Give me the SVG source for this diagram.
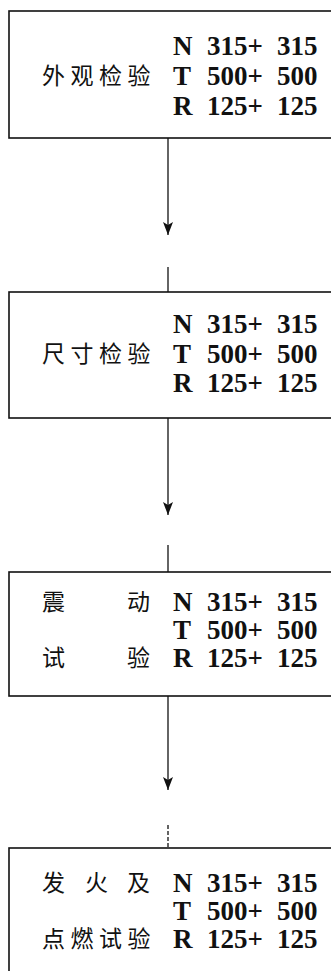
<svg xmlns="http://www.w3.org/2000/svg" width="331" height="971" viewBox="0 0 331 971">
<style>
.box{fill:#fff;stroke:#111;stroke-width:1.6}
.con{stroke:#111;stroke-width:1.3;fill:none}
.dash{stroke-dasharray:4 2}
.lat{font-family:"Liberation Serif","Times New Roman",serif;font-weight:bold;font-size:27px;fill:#111}
.cjk{font-family:"Noto Sans CJK SC","Noto Sans CJK JP",sans-serif;font-size:23px;fill:#111}
</style>
<defs>
<marker id="ah" markerUnits="userSpaceOnUse" viewBox="0 0 13 10" refX="13" refY="5" markerWidth="13" markerHeight="10" orient="auto">
<path d="M0,0 L13,5 L0,10 L3,5 z" fill="#111"/>
</marker>
</defs>
<rect width="331" height="971" fill="#fff"/>
<g id="connectors">
<line class="con" x1="168" y1="138" x2="168" y2="235" marker-end="url(#ah)"/>
<line class="con" x1="168" y1="267" x2="168" y2="292"/>
<line class="con" x1="168" y1="418" x2="168" y2="515" marker-end="url(#ah)"/>
<line class="con" x1="168" y1="545" x2="168" y2="572"/>
<line class="con" x1="168" y1="696" x2="168" y2="790" marker-end="url(#ah)"/>
<line class="con dash" x1="168" y1="825" x2="168" y2="848"/>
</g>
<g id="node1">
<rect class="box" x="9" y="11" width="340" height="127"/>
<text class="cjk" x="42" y="84" letter-spacing="5.5">外观检验</text>
<text class="lat" y="55"><tspan x="173">N</tspan><tspan x="207">315+</tspan><tspan x="277">315</tspan></text>
<text class="lat" y="85"><tspan x="173">T</tspan><tspan x="207">500+</tspan><tspan x="277">500</tspan></text>
<text class="lat" y="115"><tspan x="173">R</tspan><tspan x="207">125+</tspan><tspan x="277">125</tspan></text>
</g>
<g id="node2">
<rect class="box" x="9" y="292" width="340" height="126"/>
<text class="cjk" x="42" y="362" letter-spacing="5.5">尺寸检验</text>
<text class="lat" y="333"><tspan x="173">N</tspan><tspan x="207">315+</tspan><tspan x="277">315</tspan></text>
<text class="lat" y="363"><tspan x="173">T</tspan><tspan x="207">500+</tspan><tspan x="277">500</tspan></text>
<text class="lat" y="392"><tspan x="173">R</tspan><tspan x="207">125+</tspan><tspan x="277">125</tspan></text>
</g>
<g id="node3">
<rect class="box" x="9" y="572" width="340" height="124"/>
<text class="cjk" y="610"><tspan x="42">震</tspan><tspan x="127">动</tspan></text>
<text class="cjk" y="666"><tspan x="42">试</tspan><tspan x="127">验</tspan></text>
<text class="lat" y="611"><tspan x="173">N</tspan><tspan x="207">315+</tspan><tspan x="277">315</tspan></text>
<text class="lat" y="639"><tspan x="173">T</tspan><tspan x="207">500+</tspan><tspan x="277">500</tspan></text>
<text class="lat" y="667"><tspan x="173">R</tspan><tspan x="207">125+</tspan><tspan x="277">125</tspan></text>
</g>
<g id="node4">
<rect class="box" x="9" y="848" width="340" height="140"/>
<text class="cjk" y="891"><tspan x="42">发</tspan><tspan x="85">火</tspan><tspan x="127">及</tspan></text>
<text class="cjk" x="42" y="947" letter-spacing="5.5">点燃试验</text>
<text class="lat" y="892"><tspan x="173">N</tspan><tspan x="207">315+</tspan><tspan x="277">315</tspan></text>
<text class="lat" y="920"><tspan x="173">T</tspan><tspan x="207">500+</tspan><tspan x="277">500</tspan></text>
<text class="lat" y="948"><tspan x="173">R</tspan><tspan x="207">125+</tspan><tspan x="277">125</tspan></text>
</g>
</svg>
